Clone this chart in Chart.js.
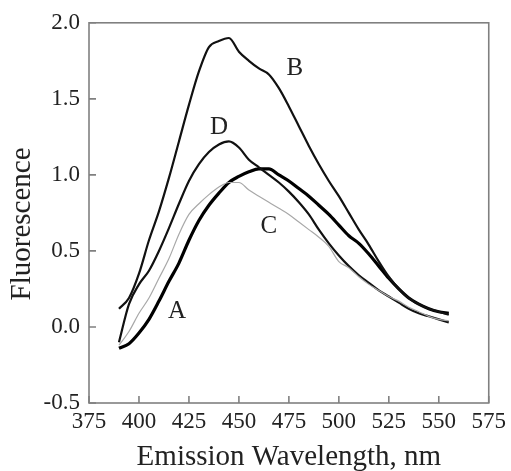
<!DOCTYPE html>
<html>
<head>
<meta charset="utf-8">
<script src="https://cdn.jsdelivr.net/npm/chart.js@4/dist/chart.umd.min.js"></script>
<style>
  html, body { margin: 0; padding: 0; background: #fff; }
  #wrap { width: 511px; height: 471px; }
</style>
</head>
<body>
<div id="wrap"><canvas id="fluorChart" width="511" height="471"></canvas></div>
<script>
// wavelengths (nm) shared by all four spectra
const wavelengths = [390, 395, 400, 405, 410, 415, 420, 425, 430, 435, 440, 445, 450, 455, 460, 465, 470,
  475, 480, 485, 490, 495, 500, 505, 510, 515, 520, 525, 530, 535, 540, 545, 550, 555];

// fluorescence
const seriesA = [-0.14, -0.11, -0.04, 0.05, 0.17, 0.30, 0.42, 0.57, 0.70, 0.80, 0.88, 0.95, 0.99, 1.02, 1.04, 1.04, 1.00,
  0.96, 0.91, 0.86, 0.80, 0.74, 0.67, 0.60, 0.55, 0.48, 0.40, 0.32, 0.25, 0.19, 0.15, 0.12, 0.10, 0.09];
const seriesB = [0.12, 0.19, 0.35, 0.57, 0.76, 0.98, 1.22, 1.46, 1.68, 1.84, 1.88, 1.90, 1.81, 1.75, 1.70, 1.66, 1.57,
  1.45, 1.32, 1.19, 1.07, 0.96, 0.86, 0.75, 0.64, 0.54, 0.43, 0.33, 0.25, 0.19, 0.15, 0.12, 0.10, 0.08];
const seriesC = [-0.12, -0.03, 0.09, 0.19, 0.32, 0.45, 0.61, 0.74, 0.81, 0.87, 0.92, 0.95, 0.95, 0.90, 0.86, 0.82, 0.78,
  0.74, 0.69, 0.64, 0.59, 0.53, 0.43, 0.39, 0.33, 0.28, 0.24, 0.20, 0.17, 0.13, 0.10, 0.07, 0.05, 0.04];
const seriesD = [-0.10, 0.15, 0.28, 0.37, 0.50, 0.65, 0.81, 0.96, 1.07, 1.15, 1.20, 1.22, 1.18, 1.10, 1.05, 1.00, 0.95,
  0.89, 0.82, 0.74, 0.64, 0.55, 0.47, 0.40, 0.34, 0.29, 0.24, 0.20, 0.16, 0.12, 0.09, 0.07, 0.05, 0.03];

const xTicks = [375, 400, 425, 450, 475, 500, 525, 550, 575];
const yTicks = [-0.5, 0.0, 0.5, 1.0, 1.5, 2.0];

// curve letters and where they sit, in data units
const curveLetters = ['A', 'B', 'C', 'D'];
const letterSpots = [[419, 0.10], [478, 1.70], [465, 0.66], [440, 1.31]];

const FONT = '"Liberation Serif", "DejaVu Serif", serif';
const INK = '#222';
const FRAME = '#808080';

function toPoints(values) {
  return wavelengths.map((w, i) => ({ x: w, y: values[i] }));
}

// frame round the plot, ticks pointing inward, curve letters, y title
const framePlugin = {
  id: 'frame',
  afterDraw(chart) {
    const ctx = chart.ctx;
    const area = chart.chartArea;
    const xs = chart.scales.x;
    const ys = chart.scales.y;
    ctx.save();
    ctx.strokeStyle = FRAME;
    ctx.lineWidth = 1.6;
    ctx.strokeRect(area.left, area.top, area.right - area.left, area.bottom - area.top);
    ctx.beginPath();
    xTicks.forEach(t => {
      const px = xs.getPixelForValue(t);
      ctx.moveTo(px, area.bottom);
      ctx.lineTo(px, area.bottom - 7);
    });
    yTicks.forEach(t => {
      const py = ys.getPixelForValue(t);
      ctx.moveTo(area.left, py);
      ctx.lineTo(area.left + 7, py);
    });
    ctx.stroke();

    ctx.fillStyle = INK;
    ctx.font = '25px ' + FONT;
    ctx.textAlign = 'center';
    ctx.textBaseline = 'middle';
    curveLetters.forEach((letter, i) => {
      const [w, v] = letterSpots[i];
      ctx.fillText(letter, xs.getPixelForValue(w), ys.getPixelForValue(v));
    });

    // y axis title, sits a little below the middle of the axis
    ctx.font = '29px ' + FONT;
    ctx.translate(22, (area.top + area.bottom) / 2 + 11);
    ctx.rotate(-Math.PI / 2);
    ctx.fillText('Fluorescence', 0, 0);
    ctx.restore();
  }
};

const ctx = document.getElementById('fluorChart').getContext('2d');
new Chart(ctx, {
  type: 'line',
  data: {
    datasets: [
      { label: 'C', data: toPoints(seriesC), borderColor: '#a8a8a8', borderWidth: 1.2 },
      { label: 'D', data: toPoints(seriesD), borderColor: '#111', borderWidth: 2.2 },
      { label: 'B', data: toPoints(seriesB), borderColor: '#111', borderWidth: 2.2 },
      { label: 'A', data: toPoints(seriesA), borderColor: '#000', borderWidth: 3.2 }
    ]
  },
  options: {
    responsive: false,
    animation: false,
    devicePixelRatio: 1,
    elements: {
      point: { radius: 0 },
      line: { fill: false, cubicInterpolationMode: 'monotone' }
    },
    layout: { padding: { left: 0, top: 20, right: 21, bottom: 0 } },
    plugins: {
      legend: { display: false },
      tooltip: { enabled: false }
    },
    scales: {
      x: {
        type: 'linear',
        min: 375,
        max: 575,
        afterBuildTicks: scale => { scale.ticks = xTicks.map(v => ({ value: v })); },
        afterFit: scale => { scale.height = 68; },
        grid: { display: false, drawTicks: false },
        border: { display: false },
        ticks: {
          color: INK,
          font: { family: FONT, size: 23 },
          padding: 5,
          maxRotation: 0,
          callback: v => String(v)
        },
        title: {
          display: true,
          text: 'Emission Wavelength, nm',
          color: INK,
          font: { family: FONT, size: 29 },
          padding: { top: 0, bottom: -4 }
        }
      },
      y: {
        type: 'linear',
        min: -0.5,
        max: 2.0,
        afterBuildTicks: scale => { scale.ticks = yTicks.map(v => ({ value: v })); },
        afterFit: scale => { scale.width = 89; },
        grid: { display: false, drawTicks: false },
        border: { display: false },
        ticks: {
          color: INK,
          font: { family: FONT, size: 23 },
          padding: 9,
          callback: v => v.toFixed(1)
        }
      }
    }
  },
  plugins: [framePlugin]
});
</script>
</body>
</html>
